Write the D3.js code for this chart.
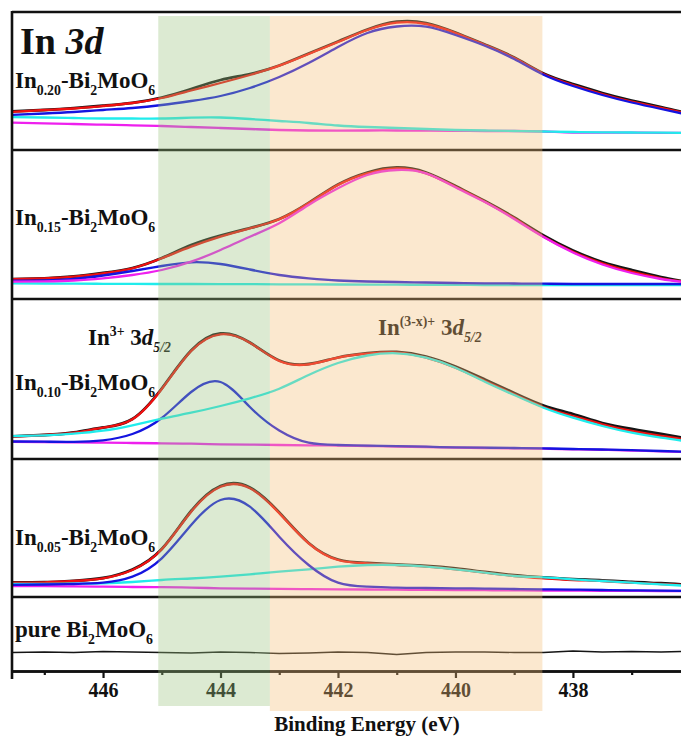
<!DOCTYPE html>
<html>
<head>
<meta charset="utf-8">
<script src="https://cdn.jsdelivr.net/npm/d3@7"></script>
<style>
  html, body { margin: 0; padding: 0; background: #fff; }
  svg { display: block; font-family: "Liberation Serif", "Times New Roman", serif; font-weight: bold; }
</style>
</head>
<body>
<svg id="chart" width="681" height="740"></svg>
<script>
// binding energy grid (eV), shared by every spectrum
const energy = [447.6, 447, 446.5, 446, 445.5, 445, 444.5, 444, 443.5, 443, 442.5, 442,
  441.5, 441, 440.5, 440, 439.5, 439, 438.5, 438, 437.5, 437, 436.5, 436.1];

// In0.20-Bi2MoO6
const in20Raw = [38.5, 40, 41.8, 44.3, 47.2, 52.5, 61, 70, 76, 84.5, 96.5, 108.5, 120.5, 128.3, 127, 117.5, 105.5, 92.5, 76.5, 66, 57, 49.5, 43, 37.5];
const in20Fit = [38, 40, 41.5, 44, 47, 52, 59.5, 67, 75, 84.3, 96, 108, 120, 127.3, 126, 117, 105, 92, 76, 65, 56, 48.3, 42, 37];
const in20Blue = [35, 36.5, 38, 40, 42, 45, 49, 54, 62, 73, 87, 103, 117, 123.5, 123.3, 115, 104.3, 91, 75.3, 64, 55, 47.5, 41, 36];
const in20Cyan = [33, 32.5, 32, 31.5, 31.5, 31.5, 32.3, 32.5, 31, 29, 27, 24.5, 23, 22, 21, 20, 19.5, 19, 18.5, 18, 17.7, 17.5, 17.3, 17];
const in20Magenta = [27.5, 26.7, 26, 25.3, 24.7, 24, 23, 22, 21, 20, 19.5, 19.3, 19.5, 19.5, 19.3, 19.2, 19, 19, 18.5, 17.5, 17.4, 17.3, 17.2, 17];

// In0.15-Bi2MoO6
const in15Raw = [19.7, 20.7, 22.5, 26, 31, 41, 54, 63.5, 71, 80, 96, 114.5, 126.5, 131.5, 126.5, 113, 98, 81.5, 63.5, 48.5, 37, 29, 22, 17.5];
const in15Fit = [19.7, 20.7, 22.3, 25.7, 30.7, 40.7, 52.3, 62.3, 70.7, 79.7, 95.7, 114, 125.7, 130.7, 125.7, 112.3, 97.3, 80.7, 62.3, 47.3, 35.7, 27.3, 20.7, 17.3];
const in15Magenta = [17.3, 17.7, 18.5, 20.7, 24, 29, 37.3, 49, 62.3, 75.7, 94, 110.7, 124, 129, 125.7, 111.7, 97, 80, 62, 46.5, 34.5, 26, 20, 17];
const in15Blue = [18.3, 18.5, 20, 23.5, 28, 33, 36.7, 35, 29.5, 24, 20.7, 18.5, 17.5, 17, 16.5, 16, 15.7, 15.5, 15.3, 15, 15, 15, 15, 15];
const in15Cyan = [15.7, 15.5, 15.4, 15.2, 15.1, 15, 15, 14.9, 14.8, 14.7, 14.6, 14.5, 14.4, 14.3, 14.2, 14.1, 14, 14, 14, 14, 14, 14, 14, 14];

// In0.10-Bi2MoO6
const in10Raw = [22.5, 24, 26.5, 31.5, 40, 70.5, 108.5, 125.5, 116.5, 98.5, 95, 101.5, 105.8, 107, 102.5, 92.5, 79.5, 66, 53.5, 45, 36, 30, 25, 21];
const in10Fit = [22.3, 24, 26.3, 31.3, 39.7, 70, 108, 124.7, 116.3, 98, 94.7, 101.3, 105.3, 106.3, 101.3, 91.3, 78, 64.7, 52, 43, 34.7, 28, 23, 19.7];
const in10Cyan = [22.7, 23.7, 25.3, 28.3, 33.7, 40.3, 46.3, 53, 60.7, 70.3, 84, 96, 103.5, 105.7, 101.3, 91.3, 77.3, 64, 51.3, 41.3, 33, 26.3, 21.3, 18];
const in10Blue = [17.5, 17.3, 17.2, 18.7, 25, 41, 67, 77, 52, 28.5, 16.3, 14, 13.3, 12.8, 12.3, 11.6, 11.3, 11, 10.6, 10, 9.5, 8.8, 8, 7.3];
const in10Magenta = [17.3, 17, 16.7, 16.3, 16, 15.7, 15.3, 14.7, 14.4, 14, 13.7, 13.5, 13, 12.5, 12, 11.3, 11, 10.7, 10.3, 9.7, 9.2, 8.5, 7.7, 7];

// In0.05-Bi2MoO6
const in05Raw = [14.5, 14.8, 16.2, 19, 27.5, 48, 86, 111, 109.5, 84.5, 54, 37.5, 34, 32.5, 31, 28.5, 25, 21.8, 19.5, 17.8, 16.7, 15, 13.8, 12.5];
const in05Fit = [14.3, 14.7, 16, 18.7, 27, 47.7, 85.3, 110.3, 108.7, 83.7, 53.7, 37, 33.7, 32, 30.3, 27.7, 24.3, 21, 18.7, 17, 16, 14.3, 13, 12];
const in05Blue = [12, 12.5, 13, 14.3, 20.3, 38.7, 72, 97, 90.3, 60.3, 32, 14.3, 10.3, 9.3, 9, 8.7, 8.4, 8, 7.7, 7.4, 7, 6.7, 6.4, 6];
const in05Cyan = [13, 13.2, 13.4, 13.7, 15, 17, 18.5, 20.3, 22.7, 25.3, 27.7, 30.3, 32, 32, 30.3, 27.7, 24.3, 21, 19.7, 17.7, 16, 14.3, 12.7, 11.3];
const in05Magenta = [11, 10.8, 10.6, 10.3, 10, 9.8, 9.4, 8.7, 8.4, 8.1, 7.9, 7.7, 7.5, 7.3, 7.1, 7, 6.8, 6.6, 6.4, 6.3, 6.2, 6.1, 6, 6];

// pure Bi2MoO6
const pureRaw = [18.5, 19, 18.5, 19.5, 19, 18.5, 18, 19, 18.5, 17.5, 18, 19, 18.5, 16.5, 18.5, 19, 19, 18.5, 18.5, 20, 19, 19.5, 19, 19.5];

// shaded regions (eV)
const bandFrom = [445.06, 443.16];
const bandTo = [443.16, 438.52];

const majorTicks = [446, 444, 442, 440, 438];
const minorTicks = [447, 445, 443, 441, 439, 437];

const labels = [
  [{ t: "In" }, { t: "0.20", sub: true }, { t: "-Bi" }, { t: "2", sub: true }, { t: "MoO" }, { t: "6", sub: true }],
  [{ t: "In" }, { t: "0.15", sub: true }, { t: "-Bi" }, { t: "2", sub: true }, { t: "MoO" }, { t: "6", sub: true }],
  [{ t: "In" }, { t: "0.10", sub: true }, { t: "-Bi" }, { t: "2", sub: true }, { t: "MoO" }, { t: "6", sub: true }],
  [{ t: "In" }, { t: "0.05", sub: true }, { t: "-Bi" }, { t: "2", sub: true }, { t: "MoO" }, { t: "6", sub: true }],
  [{ t: "pure Bi" }, { t: "2", sub: true }, { t: "MoO" }, { t: "6", sub: true }]
];

const colors = { raw: "#151515", fit: "#f01010", blue: "#1414e0", cyan: "#20ecec", magenta: "#ee20ee" };

const panels = [
  [["raw", in20Raw], ["fit", in20Fit], ["magenta", in20Magenta], ["cyan", in20Cyan], ["blue", in20Blue]],
  [["raw", in15Raw], ["fit", in15Fit], ["cyan", in15Cyan], ["blue", in15Blue], ["magenta", in15Magenta]],
  [["raw", in10Raw], ["fit", in10Fit], ["magenta", in10Magenta], ["blue", in10Blue], ["cyan", in10Cyan]],
  [["raw", in05Raw], ["fit", in05Fit], ["magenta", in05Magenta], ["cyan", in05Cyan], ["blue", in05Blue]],
  [["raw", pureRaw]]
];

const svg = d3.select("#chart");
const left = 12, right = 681;
const edges = [12, 150, 299, 459, 597, 671];

const x = d3.scaleLinear().domain([447.55, 436.16]).range([left, right]);

function richText(g, tx, ty, size, parts, fill) {
  const t = g.append("text").attr("x", tx).attr("y", ty).attr("font-size", size).attr("fill", fill || "#111");
  let shift = 0;
  parts.forEach(p => {
    const off = p.sub ? size * 0.3 : p.sup ? -size * 0.38 : 0;
    t.append("tspan")
      .attr("dy", off - shift)
      .attr("font-size", p.sub || p.sup ? size * 0.6 : size)
      .attr("font-style", p.it ? "italic" : "normal")
      .text(p.t);
    shift = off;
  });
  return t;
}

const defs = svg.append("defs");

panels.forEach((series, i) => {
  const top = edges[i], bottom = edges[i + 1];
  const y = d3.scaleLinear().domain([0, bottom - top]).range([bottom, top]);
  defs.append("clipPath").attr("id", `clip${i}`)
    .append("rect").attr("x", left).attr("y", top).attr("width", right - left).attr("height", bottom - top);

  const line = d3.line()
    .x((d, j) => x(energy[j]))
    .y(d => y(d))
    .curve(i === 4 ? d3.curveLinear : d3.curveNatural);

  const g = svg.append("g").attr("clip-path", `url(#clip${i})`);
  g.selectAll("path")
    .data(series)
    .join("path")
    .attr("d", d => line(d[1]))
    .attr("fill", "none")
    .attr("stroke", d => colors[d[0]])
    .attr("stroke-width", d => d[0] === "raw" ? (i === 4 ? 1.4 : 2.8) : 2.3)
    .attr("stroke-linejoin", "round");
});

// sample labels
const labelY = [88, 225, 390, 545, 637];
labels.forEach((parts, i) => richText(svg, 15, labelY[i], 23, parts));

// title
const title = svg.append("text").attr("x", 20).attr("y", 54).attr("font-size", 38).attr("fill", "#111");
title.append("tspan").text("In ");
title.append("tspan").attr("font-style", "italic").text("3d");

// peak annotations
richText(svg, 88, 345, 23, [{ t: "In" }, { t: "3+", sup: true }, { t: " 3" }, { t: "d", it: true }, { t: "5/2", sub: true, it: true }]);
richText(svg, 378, 335, 23, [{ t: "In" }, { t: "(3-x)+", sup: true }, { t: " 3" }, { t: "d", it: true }, { t: "5/2", sub: true, it: true }]);

// panel separators and frame
svg.append("g").selectAll("line")
  .data(edges.slice(0, 5))
  .join("line")
  .attr("x1", left).attr("x2", right)
  .attr("y1", d => d).attr("y2", d => d)
  .attr("stroke", "#111").attr("stroke-width", 2.6);
svg.append("line")
  .attr("x1", left).attr("x2", left).attr("y1", 11).attr("y2", 679)
  .attr("stroke", "#111").attr("stroke-width", 2.6);

// bottom axis
const axisG = svg.append("g").attr("transform", `translate(0,${edges[5]})`);
axisG.call(d3.axisBottom(x).tickValues(majorTicks).tickSize(7).tickSizeOuter(0).tickPadding(5).tickFormat(d3.format("d")));
axisG.append("g").call(d3.axisBottom(x).tickValues(minorTicks).tickSize(4).tickSizeOuter(0).tickFormat(""));
axisG.selectAll(".domain").attr("stroke", "#111").attr("stroke-width", 2.6);
axisG.selectAll(".tick line").attr("stroke", "#111").attr("stroke-width", 2.2);
axisG.selectAll(".tick text")
  .attr("fill", "#111")
  .attr("font-family", "Liberation Serif, Times New Roman, serif")
  .attr("font-weight", "bold")
  .attr("font-size", 20);

svg.append("text")
  .attr("x", 367).attr("y", 731)
  .attr("text-anchor", "middle")
  .attr("font-size", 21)
  .attr("fill", "#111")
  .text("Binding Energy (eV)");

// translucent highlight bands drawn over everything
const bandFill = ["rgb(155,195,126)", "rgb(244,189,118)"];
const bandBottom = [706, 711];
svg.append("g").selectAll("rect")
  .data(bandFrom)
  .join("rect")
  .attr("x", d => x(d))
  .attr("width", (d, i) => x(bandTo[i]) - x(d))
  .attr("y", 16)
  .attr("height", (d, i) => bandBottom[i] - 16)
  .attr("fill", (d, i) => bandFill[i])
  .attr("fill-opacity", 0.35);
</script>
</body>
</html>
